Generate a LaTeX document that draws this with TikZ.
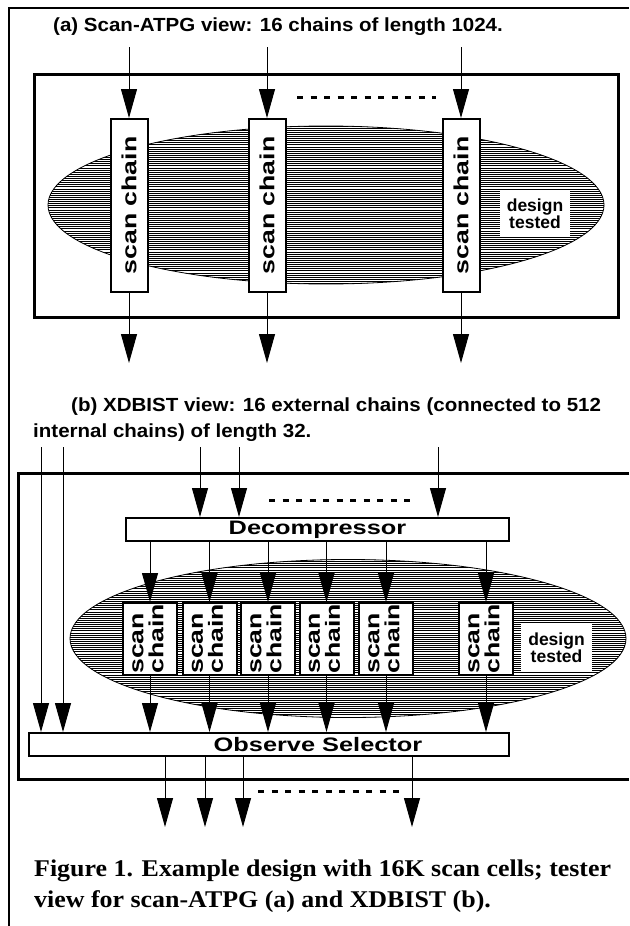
\documentclass[tikz,border=0pt]{standalone}
\usepackage{fontspec}
\setmainfont{Liberation Serif}
\setsansfont{Liberation Sans}
\newfontfamily\widesf[FakeStretch=1.3]{Liberation Sans}
\newfontfamily\headsf[FakeStretch=1.08]{Liberation Sans}
\newfontfamily\capfont[FakeStretch=1.08]{Liberation Serif}
\usepackage{tikz}
\usetikzlibrary{arrows.meta,shapes.geometric}
\newcommand{\scantwo}{\rotatebox{90}{\begin{tabular}{@{}l@{}}scan\\chain\end{tabular}}}

\begin{document}
\begin{tikzpicture}[
  x=1pt,y=-1pt,
  ttl/.style={font=\headsf\bfseries\fontsize{19}{22}\selectfont,inner sep=0pt},
  scanbox/.style={draw,line width=2pt,fill=white,minimum width=37pt,minimum height=173pt,inner sep=0pt,font=\widesf\bfseries\fontsize{20.5}{17}\selectfont},
  scanboxB/.style={scanbox,minimum width=54pt,minimum height=72pt},
  dut/.style={ellipse,draw,line width=0.8pt,minimum width=556pt,minimum height=158pt,inner sep=0pt,
    path picture={\foreach \k in {0,...,78}
      \draw[line width=0.9pt] ([yshift=-\k*2.1pt]path picture bounding box.north west) -- ++(600,0);}},
  dtag/.style={fill=white,minimum width=70pt,minimum height=47pt,align=center,inner sep=0pt,font=\sffamily\bfseries\fontsize{17.5}{17}\selectfont},
  bar/.style={draw,line width=2pt,fill=white,minimum height=23pt,inner sep=0pt,font=\widesf\bfseries\fontsize{19.5}{20}\selectfont},
  arr/.style={-{Triangle[length=29pt,width=16pt]},line width=1pt},
  dots/.style={line width=3pt,dash pattern=on 6pt off 7.5pt},
  capt/.style={font=\capfont\bfseries\fontsize{24}{31}\selectfont,inner sep=0pt}]
  \useasboundingbox (0,0) rectangle (629,926);
  % page frame
  \draw[line width=2pt] (9,926) -- (9,8) -- (629,8);
  % (a) scan-ATPG view
  \node[ttl,anchor=west] (ttlA) at (53,27) {(a) Scan-ATPG view: 16 chains of length 1024.};
  \draw[line width=3pt] (34,74) rectangle (618,317);
  \node[dut] (dutA) at (326,205) {};
  \node[scanbox] (a1) at (129,205.5) {\rotatebox{90}{scan chain}};
  \node[scanbox] (a2) at (267,205.5) {\rotatebox{90}{scan chain}};
  \node[scanbox] (a3) at (461,205.5) {\rotatebox{90}{scan chain}};
  \node[dtag] (dtA) at (535,213.5) {design\\tested};
  \foreach \c in {a1,a2,a3}{
    \draw[arr] (\c.north) ++(0,-71) -- (\c.north);
    \draw[arr] (\c.south) -- ++(0,70);
  }
  \draw[dots] (297,97) -- (436,97);
  % (b) XDBIST view
  \node[ttl,anchor=west] (ttlB1) at (71,407) {(b) XDBIST view: 16 external chains (connected to 512};
  \node[ttl,anchor=west] (ttlB2) at (33,433) {internal chains) of length 32.};
  \draw[line width=3pt] (629,473) -- (18,473) -- (18,779) -- (629,779);
  \node[dut] (dutB) at (348,638.5) {};
  \node[bar,minimum width=383pt] (dec) at (317.5,529.5) {Decompressor};
  \node[bar,minimum width=480pt] (obs) at (269,744.5) {\hspace*{98pt}Observe Selector};
  \foreach \i/\x in {1/150,2/209.5,3/268,4/326.5,5/386,6/486}{
    \node[scanboxB] (b\i) at (\x,639) {\scantwo};
    \draw[arr] (b\i |- dec.south) -- (b\i.north);
    \draw[arr] (b\i.south) -- (b\i |- obs.north);
  }
  \node[dtag,minimum width=71pt,minimum height=49pt] (dtB) at (556.5,647.5) {design\\tested};
  \foreach \x in {200,239,438} \draw[arr] (\x,447) -- (\x,0 |- dec.north);
  \foreach \x in {41,63} \draw[arr] (\x,447) -- (\x,0 |- obs.north);
  \foreach \x in {165,205,243,412} \draw[arr] (\x,0 |- obs.south) -- (\x,827);
  \draw[dots] (269,500) -- (410,500);
  \draw[dots] (258,791) -- (399,791);
  % caption
  \node[capt,anchor=base west] (cap1) at (34,876) {Figure 1. Example design with 16K scan cells; tester};
  \node[capt,anchor=base west] (cap2) at (34,907) {view for scan-ATPG (a) and XDBIST (b).};
\end{tikzpicture}
\end{document}
